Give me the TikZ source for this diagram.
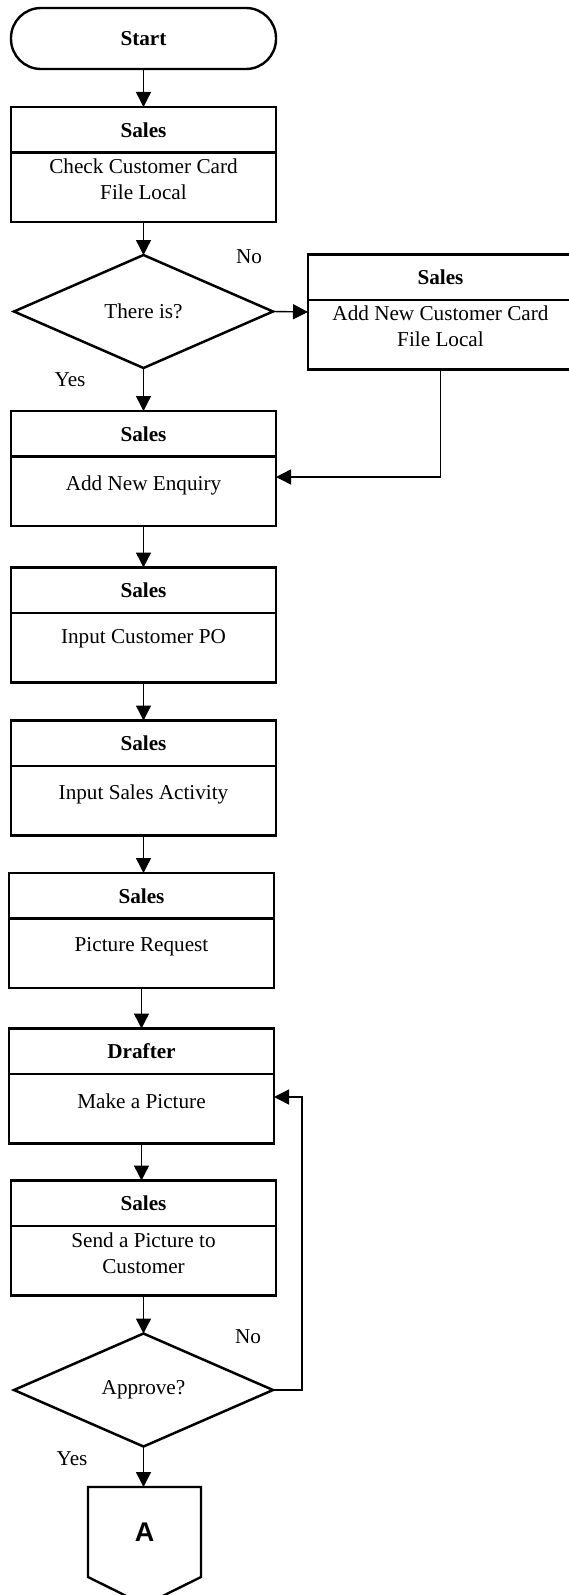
\documentclass[tikz,border=0pt]{standalone}
\usepackage{fontspec}
\setmainfont{Liberation Serif}
\newfontfamily\sansA{Liberation Sans}
\usetikzlibrary{arrows.meta,shapes.geometric,calc}
\tikzset{
 pbox/.style={draw, line width=1.2pt, minimum width=132.5pt, minimum height=57.5pt, inner sep=0pt, outer sep=0pt},
 dec/.style={draw, diamond, line width=1.25pt, minimum width=129.5pt, minimum height=56.5pt, inner sep=0pt, outer sep=0pt, font=\fontsize{10.6}{13}\selectfont},
 term/.style={draw, line width=1.2pt, rounded corners=15pt, minimum width=132.5pt, minimum height=30.5pt, inner sep=0pt, outer sep=0pt, font=\fontsize{10.6}{13}\selectfont\bfseries},
 htext/.style={font=\fontsize{10.6}{13}\selectfont\bfseries, inner sep=0pt},
 btext/.style={font=\fontsize{10.6}{13}\selectfont, align=center, inner sep=0pt},
 lbl/.style={font=\fontsize{10.6}{13}\selectfont, inner sep=0pt},
 conn/.style={line width=0.7pt},
 arr/.style={conn, -{Triangle[length=7.5pt,width=7.5pt]}},
 divl/.style={line width=1.2pt},
}
\newcommand{\flowbox}[6]{%
 \node[pbox] (#1) at (#2,#3) {};
 \draw[divl] ([yshift=-22.75pt]#1.north west) -- ([yshift=-22.75pt]#1.north east);
 \node[htext] (#1h) at ([yshift=-11.4pt]#1.north) {#4};
 \node[btext] (#1t) at (#2,#5) {#6};
}
\begin{document}
\begin{tikzpicture}[x=0.5pt,y=-0.5pt]
\useasboundingbox (0,0) rectangle (568,1595);
\node[term] (start) at (143.5,38.5) {Start};
\flowbox{b1}{143.5}{164.5}{Sales}{179}{Check Customer Card\\File Local}
\node[dec] (d1) at (143.5,311.5) {There is?};
\flowbox{r1}{440.5}{312}{Sales}{326.5}{Add New Customer Card\\File Local}
\flowbox{b2}{143.5}{468.5}{Sales}{485}{Add New Enquiry}
\flowbox{b3}{143.5}{625}{Sales}{639}{Input Customer PO}
\flowbox{b4}{143.5}{778}{Sales}{794}{Input Sales Activity}
\flowbox{b5}{141.5}{930.5}{Sales}{947}{Picture Request}
\flowbox{b6}{141.5}{1086}{Drafter}{1101}{Make a Picture}
\flowbox{b7}{143.5}{1238}{Sales}{1253}{Send a Picture to\\Customer}
\node[dec] (d2) at (143.5,1390) {Approve?};
\node[inner sep=0pt, outer sep=0pt, minimum width=56.5pt, minimum height=45pt] (A) at (144.5,1532) {\sansA\bfseries\fontsize{13.5}{16}\selectfont A};
\draw[line width=1.2pt] (A.north west) -- (A.north east) -- (A.south east) -- ([yshift=-14pt]A.south) -- (A.south west) -- cycle;
% connectors
\draw[arr] (start.south) -- (b1.north);
\draw[arr] (b1.south) -- (d1.north);
\draw[arr] (d1.east) -- (r1.west);
\draw[arr] (d1.south) -- (b2.north);
\coordinate (j1) at (0,477);
\draw[arr] (r1.south) |- (b2.east |- j1);
\draw[arr] (b2.south) -- (b3.north);
\draw[arr] (b3.south) -- (b4.north);
\draw[arr] (b4.south) -- (b4.south |- b5.north);
\draw[arr] (b5.south) -- (b5.south |- b6.north);
\draw[arr] (b6.south) -- (b6.south |- b7.north);
\draw[arr] (b7.south) -- (d2.north);
\draw[arr] (d2.south) -- (d2.south |- A.north);
\coordinate (j2) at (302,1097);
\draw[arr] (d2.east) -| (j2) -- (b6.east |- j2);
% labels
\node[lbl] (no1) at (249,257) {No};
\node[lbl] (yes1) at (70,380) {Yes};
\node[lbl] (no2) at (248,1337) {No};
\node[lbl] (yes2) at (72,1459) {Yes};
\end{tikzpicture}
\end{document}
